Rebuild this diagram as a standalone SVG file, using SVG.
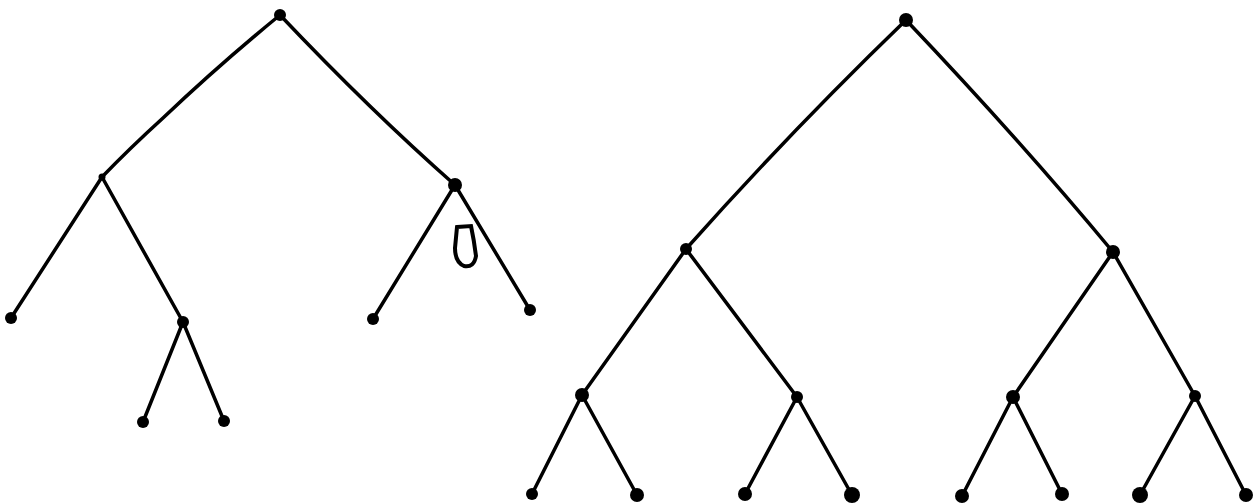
<svg xmlns="http://www.w3.org/2000/svg" width="1256" height="503" viewBox="0 0 1256 503">
<style>
.e{stroke:#000;stroke-width:3.5;fill:none;stroke-linecap:round;stroke-linejoin:round}
.n{fill:#000}
</style>
<rect width="1256" height="503" fill="#fff"/>
<g id="connectors">
<path class="e" d="M280,15 Q220,64 163,118 Q130,148 102,177"/>
<path class="e" d="M280,15 Q370,110 455,185"/>
<path class="e" d="M102,177 L11,318"/>
<path class="e" d="M102,177 L183,322"/>
<path class="e" d="M183,322 L143,422"/>
<path class="e" d="M183,322 L224,421"/>
<path class="e" d="M455,185 L373,319"/>
<path class="e" d="M455,185 L530,310"/>
<path class="e" d="M906,20 Q790,132 686,249"/>
<path class="e" d="M906,20 Q1020,140 1113,252"/>
<path class="e" d="M686,249 L582,395"/>
<path class="e" d="M686,249 L797,397"/>
<path class="e" d="M1113,252 L1013,397"/>
<path class="e" d="M1113,252 L1195,396"/>
<path class="e" d="M582,395 L532,494"/>
<path class="e" d="M582,395 L637,495"/>
<path class="e" d="M797,397 L745,494"/>
<path class="e" d="M797,397 L852,495"/>
<path class="e" d="M1013,397 L962,496"/>
<path class="e" d="M1013,397 L1062,494"/>
<path class="e" d="M1195,396 L1140,495"/>
<path class="e" d="M1195,396 L1246,495"/>
</g>
<g id="n-root1"><circle class="n" cx="280" cy="15" r="6"/></g>
<g id="n-a"><circle class="n" cx="102" cy="177" r="3.5"/></g>
<g id="n-b"><circle class="n" cx="455" cy="185" r="7"/></g>
<g id="n-c"><circle class="n" cx="11" cy="318" r="6"/></g>
<g id="n-d"><circle class="n" cx="183" cy="322" r="6"/></g>
<g id="n-e"><circle class="n" cx="143" cy="422" r="6"/></g>
<g id="n-f"><circle class="n" cx="224" cy="421" r="6"/></g>
<g id="n-g"><circle class="n" cx="373" cy="319" r="6"/></g>
<g id="n-h"><circle class="n" cx="530" cy="310" r="6"/></g>
<g id="mark"><path d="M457,227 L471,226 Q474,240 476,256 Q474,268 464,266 Q455,262 455,248 Z" fill="none" stroke="#000" stroke-width="4"/></g>
<g id="n-root2"><circle class="n" cx="906" cy="20" r="7"/></g>
<g id="n-i"><circle class="n" cx="686" cy="249" r="6"/></g>
<g id="n-j"><circle class="n" cx="1113" cy="252" r="7"/></g>
<g id="n-k"><circle class="n" cx="582" cy="395" r="7"/></g>
<g id="n-l"><circle class="n" cx="797" cy="397" r="6"/></g>
<g id="n-m"><circle class="n" cx="1013" cy="397" r="7"/></g>
<g id="n-o"><circle class="n" cx="1195" cy="396" r="6"/></g>
<g id="n-p"><circle class="n" cx="532" cy="494" r="6"/></g>
<g id="n-q"><circle class="n" cx="637" cy="495" r="7"/></g>
<g id="n-r"><circle class="n" cx="745" cy="494" r="7"/></g>
<g id="n-s"><circle class="n" cx="852" cy="495" r="8"/></g>
<g id="n-t"><circle class="n" cx="962" cy="496" r="7"/></g>
<g id="n-u"><circle class="n" cx="1062" cy="494" r="7"/></g>
<g id="n-v"><circle class="n" cx="1140" cy="495" r="8"/></g>
<g id="n-w"><circle class="n" cx="1246" cy="495" r="7"/></g>
</svg>
